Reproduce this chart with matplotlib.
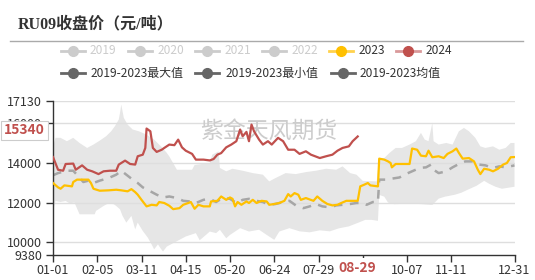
import matplotlib
matplotlib.use("Agg")
import matplotlib.pyplot as plt
from matplotlib.lines import Line2D
import numpy as np
import pandas as pd

plt.rcParams['font.family'] = ['Noto Sans CJK SC', 'DejaVu Sans']

# category axis: every day of a (leap) year, x values below are day indexes
dates = pd.date_range('2024-01-01', '2024-12-31').strftime('%m-%d').tolist()
tick_days = [0, 35, 70, 105, 140, 175, 210, 245, 280, 315, 365]
y_ticks = [9380, 10000, 12000, 14000, 16000, 17130]

# 2024 (up to 08-29)
d2024 = [0, 4, 8, 10, 16, 18, 23, 27, 31, 36, 40, 45, 50, 52, 57, 61, 65, 67, 71, 73,
         74, 77, 79, 82, 86, 88, 92, 96, 99, 102, 105, 110, 113, 119, 124, 127, 130, 133,
         137, 141, 145, 148, 150, 153, 155, 157, 159, 163, 166, 170, 173, 178, 182, 186,
         191, 195, 200, 204, 211, 216, 221, 225, 229, 234, 237, 241]
v2024 = [14300, 13660, 13610, 13950, 13970, 13660, 13880, 13660, 13580, 13440, 13580,
         13610, 13610, 13920, 14120, 13950, 13920, 14340, 14420, 14760, 15740, 15600,
         14760, 14560, 14670, 14760, 14930, 14900, 15180, 14790, 14620, 14460, 14170,
         14170, 14130, 14200, 14420, 14500, 14790, 14930, 15100, 15690, 15350, 15570,
         15100, 15940, 15600, 15180, 14930, 15100, 14930, 15270, 15100, 14670, 14670,
         14460, 14590, 14420, 14250, 14340, 14420, 14620, 14760, 14840, 15100, 15340]

# 2023
d2023 = [0, 4, 6, 9, 15, 16, 19, 28, 30, 32, 37, 44, 50, 54, 59, 62, 65, 67, 70, 74,
         78, 82, 84, 88, 92, 95, 100, 103, 107, 109, 112, 115, 119, 124, 125, 130, 133,
         137, 140, 142, 144, 146, 149, 153, 155, 158, 161, 165, 169, 171, 175, 179, 183,
         186, 188, 191, 194, 196, 200, 206, 209, 213, 217, 221, 225, 228, 232, 241, 243,
         246, 249, 251, 257, 258, 262, 265, 267, 268, 271, 282, 284, 288, 291, 295, 297,
         300, 305, 309, 312, 316, 319, 321, 324, 329, 333, 336, 338, 341, 345, 348, 352,
         356, 359, 362, 365]
v2023 = [12990, 12770, 12700, 12870, 12820, 13040, 13160, 13160, 12990, 12700, 12600,
         12620, 12650, 12620, 12570, 12680, 12530, 12400, 12140, 11810, 11890, 11860,
         12030, 11980, 11840, 11670, 11720, 11890, 11980, 12030, 11690, 11890, 11810,
         11810, 12060, 12090, 12310, 12140, 12260, 12190, 11810, 12030, 11890, 12060,
         11980, 12140, 11980, 12090, 12060, 11890, 11930, 11980, 12090, 12430, 12310,
         12480, 12400, 12140, 12230, 12090, 12310, 12090, 11930, 11860, 11890, 11980,
         12090, 12090, 12820, 12900, 12990, 12870, 12820, 14220, 14170, 14080, 14000,
         13780, 13950, 13950, 14730, 14670, 14370, 14340, 14620, 14290, 14340, 14250,
         14460, 14590, 14730, 14510, 14220, 14250, 14080, 13660, 13440, 13710, 13660,
         13580, 13710, 13920, 14000, 14290, 14300]

# 2019-2023 mean
d_mean = [0, 4, 11, 16, 20, 24, 28, 32, 37, 44, 50, 54, 58, 63, 67, 71, 77, 82, 87, 92,
          98, 103, 108, 113, 119, 124, 129, 134, 140, 145, 150, 155, 161, 166, 171, 176,
          182, 187, 192, 198, 203, 208, 213, 219, 224, 229, 235, 240, 245, 248, 253, 257,
          258, 263, 268, 274, 279, 284, 290, 295, 299, 301, 305, 311, 316, 321, 326, 332,
          337, 342, 348, 353, 358, 365]
v_mean = [13380, 13490, 13610, 13610, 13330, 13040, 13110, 12990, 13110, 13240, 13410,
          13610, 13410, 13160, 12990, 12770, 12570, 12400, 12260, 12310, 12230, 12090,
          12060, 11980, 12140, 12190, 12030, 12230, 12190, 11980, 12140, 12190, 12090,
          12030, 11890, 11930, 12030, 12090, 11860, 11720, 11810, 11930, 11810, 11760,
          11860, 11890, 11930, 11980, 11980, 11890, 12030, 12030, 13160, 13160, 13210,
          13270, 13440, 13580, 13750, 13780, 13920, 13660, 13490, 13580, 13780, 13950,
          14080, 14080, 13920, 13880, 13750, 13830, 13780, 13880]

# 2019-2023 max
d_max = [0, 2, 6, 11, 16, 21, 27, 32, 37, 42, 46, 49, 52, 53, 54, 56, 59, 63, 68, 74,
         80, 86, 90, 92, 98, 105, 110, 112, 118, 124, 126, 131, 132, 137, 142, 150, 158,
         166, 171, 176, 184, 192, 200, 208, 216, 224, 229, 235, 240, 245, 256, 258, 262,
         266, 271, 276, 282, 287, 291, 294, 297, 300, 301, 305, 311, 316, 321, 325, 329,
         334, 338, 342, 348, 353, 358, 362, 365]
v_max = [14840, 15270, 15270, 15100, 15270, 15010, 14760, 14930, 15130, 15350, 15600,
         15860, 16190, 16530, 16950, 16280, 15940, 15690, 15600, 15430, 15180, 14800,
         14510, 14330, 13660, 13660, 13660, 13900, 13950, 14000, 14420, 14590, 13750,
         13580, 13710, 13610, 13490, 13410, 13070, 13240, 13490, 13440, 13540, 13610,
         13710, 13660, 13830, 13490, 13410, 13100, 13070, 14250, 14250, 14500, 14760,
         14760, 14930, 15100, 15520, 15180, 15100, 16020, 15100, 14930, 15010, 14930,
         15600, 15770, 15600, 15270, 14840, 14760, 14840, 14670, 14760, 15010, 15010]

# 2019-2023 min
d_min = [0, 2, 6, 10, 13, 17, 21, 33, 34, 40, 44, 48, 50, 53, 55, 58, 62, 65, 67, 71,
         75, 78, 80, 83, 85, 87, 90, 95, 100, 105, 113, 116, 121, 124, 129, 132, 137, 140,
         148, 155, 163, 169, 175, 179, 187, 195, 203, 211, 219, 226, 234, 242, 247, 252,
         257, 258, 262, 265, 270, 280, 290, 300, 305, 310, 318, 323, 328, 335, 341, 345,
         350, 355, 360, 365]
v_min = [11580, 12080, 12030, 12080, 11970, 12000, 11410, 11410, 11580, 11830, 11970,
         11920, 11830, 11660, 11330, 10990, 11330, 10650, 10990, 10570, 10230, 9890, 9640,
         9890, 9700, 9530, 9780, 9950, 10120, 10290, 10460, 10100, 10370, 10540, 10460,
         10630, 10200, 10370, 10710, 10540, 10630, 10370, 10120, 10540, 10710, 10550,
         10500, 10600, 10550, 10700, 10800, 11000, 11130, 11130, 11080, 12390, 12300,
         12000, 11920, 11950, 11930, 11880, 12200, 12300, 12400, 12500, 12650, 12850,
         13100, 12950, 12800, 12700, 12750, 12800]

GOLD = '#FFC000'
RED = '#C0504D'
BAND = '#e6e6e6'
MEAN = '#a6a6a6'
DARK = '#666666'
W, H = 535, 280


def fx(px):
    return px / W


def fy(py):
    return 1 - py / H


fig = plt.figure(figsize=(W / 100, H / 100), dpi=100)
ax = fig.add_axes([fx(53), fy(254.5), 461.5 / W, 153.5 / H])

# band between min and max
ax.fill(np.concatenate([d_max, d_min[::-1]]), np.concatenate([v_max, v_min[::-1]]),
        color=BAND, lw=0, zorder=1)
for v in y_ticks[1:]:
    ax.axhline(v, color='#dedede', lw=1, zorder=1.5)

ax.plot(d_mean, v_mean, color=MEAN, lw=1.8, ls=(0, (3.5, 3)), zorder=2)
ax.plot(d2023, v2023, color=GOLD, lw=1.6, zorder=3)
ax.plot(d2024, v2024, color=RED, lw=1.6, zorder=4)

ax.text((200 - 53) / 461.5, (254.5 - 131) / 153.5, '紫金天风期货', transform=ax.transAxes,
        fontsize=16.5, color='#cccccc', va='center', ha='left', zorder=1.8)

last_day = d2024[-1]

ax.set_xlim(0, 365)
ax.set_ylim(9380, 17130)
ax.set_xticks(tick_days)
# the 09-02 label sits under the pointer label of the last 2024 day
ax.set_xticklabels(['' if abs(d - last_day) < 8 else dates[d] for d in tick_days])
ax.set_yticks(y_ticks)
ax.set_yticklabels([str(v) for v in y_ticks])
ax.tick_params(axis='both', colors='#333333', labelsize=9, length=5, width=1, pad=2)
ax.tick_params(axis='y', pad=3)
for s in ['top', 'right']:
    ax.spines[s].set_visible(False)
for s in ['left', 'bottom']:
    ax.spines[s].set_color('#333333')
    ax.spines[s].set_linewidth(1)

# axis pointer labels
ax.text(last_day, -0.045, dates[last_day], transform=ax.get_xaxis_transform(),
        ha='center', va='top', fontsize=10, fontweight='bold', color=RED, zorder=10,
        bbox=dict(boxstyle='square,pad=0.25', fc='white', ec='none'), clip_on=False)
fig.text(fx(24.5), fy(130.5), str(v2024[-1]), ha='center', va='center', fontsize=10,
         fontweight='bold', color=RED,
         bbox=dict(boxstyle='square,pad=0.2', fc='white', ec='#cccccc', lw=0.8))

# title
fig.text(fx(18), fy(24), 'RU09收盘价（元/吨）', fontsize=11.5, fontweight='bold', color='#333333',
         va='center', ha='left', family=['Liberation Serif', 'Noto Sans CJK SC'])
fig.add_artist(Line2D([fx(10), fx(523)], [fy(40.5), fy(40.5)], transform=fig.transFigure,
                      color='#aaaaaa', lw=1))

# legend
legend_items = [
    ('2019', '#cccccc', '#cccccc', '#cccccc', 72.7, 90, 51),
    ('2020', '#cccccc', '#cccccc', '#cccccc', 140, 157.7, 51),
    ('2021', '#cccccc', '#cccccc', '#cccccc', 206.7, 224.3, 51),
    ('2022', '#cccccc', '#cccccc', '#cccccc', 274, 291.7, 51),
    ('2023', GOLD, '#ffd24d', '#333333', 340.7, 359, 51),
    ('2024', RED, '#d9999a', '#333333', 408.3, 426, 51),
    ('2019-2023最大值', DARK, DARK, '#333333', 72.7, 90.7, 73),
    ('2019-2023最小值', DARK, DARK, '#333333', 207.3, 225.3, 73),
    ('2019-2023均值', DARK, DARK, '#333333', 342.7, 360, 73),
]
for label, mc, lc, tc, cx, tx, cy in legend_items:
    fig.add_artist(Line2D([fx(cx - 12), fx(cx + 12)], [fy(cy), fy(cy)],
                          transform=fig.transFigure, color=lc, lw=2))
    fig.add_artist(Line2D([fx(cx)], [fy(cy)], transform=fig.transFigure, marker='o',
                          ms=7, color=mc, mec=mc, ls='none'))
    fig.text(fx(tx), fy(cy), label, fontsize=8.6, color=tc, va='center', ha='left')

fig.savefig('out.png', dpi=100)
